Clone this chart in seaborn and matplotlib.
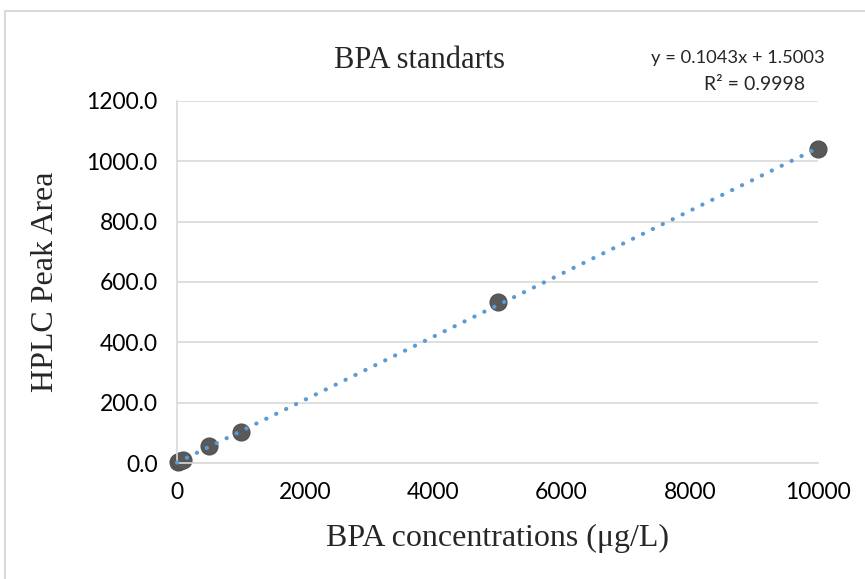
import matplotlib
matplotlib.use("Agg")
import matplotlib.pyplot as plt
import seaborn as sns
import pandas as pd
from matplotlib.patches import Rectangle

# Data
concentrations = [10, 50, 100, 500, 1000, 5000, 10000]
peak_areas = [2.5, 6.8, 11.5, 58.0, 103.5, 533.0, 1040.5]
slope = 0.1043
intercept = 1.5003
r_squared = 0.9998
x_ticks = [0, 2000, 4000, 6000, 8000, 10000]
y_ticks = [0, 200, 400, 600, 800, 1000, 1200]

df = pd.DataFrame({"conc": concentrations, "area": peak_areas})
line_df = pd.DataFrame({"conc": [0, 10000]})
line_df["area"] = slope * line_df["conc"] + intercept

sns.set_theme(style="white")
fig = plt.figure(figsize=(8.65, 5.79), dpi=100)
ax = fig.add_axes([177/865, 1 - 463/579, (818-177)/865, (463-101)/579])

sns.scatterplot(data=df, x="conc", y="area", ax=ax, color="#595959",
                s=150, edgecolor="#505050", linewidth=0.8, zorder=2, clip_on=False)
sns.lineplot(data=line_df, x="conc", y="area", ax=ax, color="#5B9BD5",
             linewidth=3.0, zorder=3)
ln = ax.lines[-1]
ln.set_linestyle((0, (0.05, 2.6)))
ln.set_dash_capstyle("round")
ln.set_clip_on(False)

ax.set_xlim(0, 10000)
ax.set_ylim(0, 1200)
ax.set_xticks(x_ticks)
ax.set_yticks(y_ticks)
ax.set_yticklabels([f"{v:.1f}" for v in y_ticks])
ax.yaxis.grid(True, color="#D9D9D9", linewidth=1.2)
ax.set_axisbelow(True)
for s in ["top", "right"]:
    ax.spines[s].set_visible(False)
for s in ["left", "bottom"]:
    ax.spines[s].set_color("#D9D9D9")
    ax.spines[s].set_linewidth(1.2)
ax.tick_params(axis="both", length=0, labelsize=16.5, colors="#000000")
ax.tick_params(axis="y", pad=14)
ax.tick_params(axis="x", pad=14)
for lab in ax.get_xticklabels() + ax.get_yticklabels():
    lab.set_fontfamily("Lato")

ax.set_xlabel("BPA concentrations (\u03bcg/L)", fontfamily="Liberation Serif",
              fontsize=23, labelpad=15)
ax.set_ylabel("HPLC Peak Area", fontfamily="Liberation Serif", fontsize=23, labelpad=19)
fig.text(419/865, 1 - 60/579, "BPA standarts", fontfamily="Liberation Serif",
         fontsize=22, ha="center", va="center")
fig.text(738/865, 1 - 58/579, f"y = {slope:.4f}x + {intercept:.4f}",
         fontfamily="Lato", fontsize=13.2, ha="center", va="center")
fig.text(755/865, 1 - 85/579, f"R\u00b2 = {r_squared:.4f}",
         fontfamily="Lato", fontsize=14, ha="center", va="center")

fig.patches.append(Rectangle((5/865, -0.1), 1.2, 1 - 11/579 + 0.1,
                             transform=fig.transFigure, fill=False,
                             edgecolor="#D9D9D9", linewidth=1.5))

fig.savefig("out.png", dpi=100)
